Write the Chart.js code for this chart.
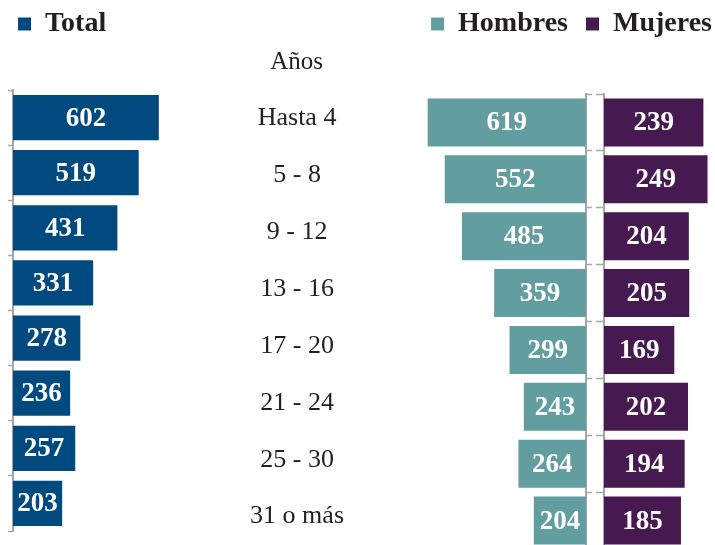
<!DOCTYPE html>
<html>
<head>
<meta charset="utf-8">
<script src="https://cdn.jsdelivr.net/npm/chart.js@4"></script>
<style>
  html, body { margin: 0; padding: 0; background: #fff; overflow: hidden; }
  #lienzo { position: relative; width: 715px; height: 545px; overflow: hidden; }
  #graficoTotal { position: absolute; left: 0; top: 0; }
  #graficoSexo { position: absolute; left: 240px; top: -8px; }
</style>
</head>
<body>
<div id="lienzo">
  <canvas id="graficoTotal" width="323" height="545"></canvas>
  <canvas id="graficoSexo" width="490" height="577"></canvas>
</div>
<script>
// Datos
var categorias = ['Hasta 4', '5 - 8', '9 - 12', '13 - 16', '17 - 20', '21 - 24', '25 - 30', '31 o más'];
var total = [602, 519, 431, 331, 278, 236, 257, 203];
var hombres = [619, 552, 485, 359, 299, 243, 264, 204];
var mujeres = [239, 249, 204, 205, 169, 202, 194, 185];

var serif = "'Liberation Serif', 'DejaVu Serif', serif";
var gris = '#a6a6a6';
var texto = '#231f20';

Chart.defaults.font.family = serif;
Chart.defaults.color = texto;

// numeros blancos dentro de cada barra
var valoresEnBarras = {
    id: 'valoresEnBarras',
    afterDatasetsDraw: function (chart) {
        var ctx = chart.ctx;
        ctx.save();
        ctx.font = 'bold 27px ' + serif;
        ctx.fillStyle = '#ffffff';
        ctx.textAlign = 'center';
        ctx.textBaseline = 'middle';
        chart.data.datasets.forEach(function (ds, i) {
            chart.getDatasetMeta(i).data.forEach(function (barra, j) {
                ctx.fillText(ds.data[j], (barra.x + barra.base) / 2, barra.y + 1);
            });
        });
        ctx.restore();
    }
};

// espacio fijo para la leyenda
function altoLeyenda(alto) {
    return {
        id: 'altoLeyenda',
        afterInit: function (chart) {
            var fit = chart.legend.fit;
            chart.legend.fit = function () { fit.call(this); this.height = alto; };
        }
    };
}

var leyenda = {
    font: { size: 28, weight: 'bold' },
    boxWidth: 13,
    boxHeight: 13,
    color: texto
};

// Total
new Chart(document.getElementById('graficoTotal'), {
    type: 'bar',
    data: {
        labels: categorias,
        datasets: [{
            label: 'Total',
            data: total,
            backgroundColor: '#004a7f',
            borderWidth: 0,
            barPercentage: 0.82,
            categoryPercentage: 1
        }]
    },
    options: {
        indexAxis: 'y',
        responsive: false,
        animation: false,
        events: [],
        layout: { padding: { left: 8, top: 0, right: 0, bottom: 14 } },
        plugins: {
            legend: { align: 'start', labels: Object.assign({ padding: 10 }, leyenda) },
            title: {
                display: true, text: 'Años', align: 'end', weight: 500, color: texto,
                font: { size: 25, weight: 'normal', lineHeight: 1 },
                padding: { top: 0, bottom: 15 }
            },
            tooltip: { enabled: false }
        },
        scales: {
            x: { display: false, min: 0, max: 1280 },
            y: {
                grid: { drawOnChartArea: false, drawTicks: true, tickLength: 5, tickColor: gris, tickWidth: 1.5 },
                border: { color: gris, width: 2 },
                ticks: { display: false }
            }
        }
    },
    plugins: [valoresEnBarras, altoLeyenda(50)]
});

// Hombres y Mujeres
new Chart(document.getElementById('graficoSexo'), {
    type: 'bar',
    data: {
        labels: categorias,
        datasets: [{
            label: 'Hombres',
            data: hombres,
            backgroundColor: '#629da0',
            borderWidth: 0,
            xAxisID: 'xh',
            yAxisID: 'y',
            grouped: false,
            barPercentage: 0.845,
            categoryPercentage: 1
        }, {
            label: 'Mujeres',
            data: mujeres,
            backgroundColor: '#461950',
            borderWidth: 0,
            xAxisID: 'xm',
            yAxisID: 'y',
            grouped: false,
            barPercentage: 0.845,
            categoryPercentage: 1
        }]
    },
    options: {
        indexAxis: 'y',
        responsive: false,
        animation: false,
        events: [],
        layout: { padding: { left: 4, top: 0, right: 0, bottom: 20 } },
        plugins: {
            legend: { align: 'end', labels: Object.assign({ padding: 18 }, leyenda) },
            tooltip: { enabled: false }
        },
        scales: {
            xh: { type: 'linear', reverse: true, display: false, min: -563, max: 942 },
            xm: { type: 'linear', display: false, min: -623, max: 303 },
            y: {
                type: 'category', position: { xh: 0 }, offset: true,
                grid: { display: false },
                border: { color: gris, width: 2 },
                ticks: { display: false }
            },
            ym: {
                type: 'category', position: { xm: 0 }, offset: true,
                grid: { offset: true, drawOnChartArea: false, drawTicks: true, tickLength: 18, tickColor: gris, tickWidth: 1.5, tickBorderDash: [7, 4] },
                border: { color: gris, width: 2 },
                ticks: { display: false }
            },
            yl: {
                type: 'category', position: 'left', offset: true,
                grid: { display: false, drawTicks: false },
                border: { display: false },
                ticks: { font: { size: 26 }, color: texto, crossAlign: 'center', labelOffset: -4, padding: 1 },
                afterFit: function (escala) { escala.width = 101; }
            }
        }
    },
    plugins: [valoresEnBarras, altoLeyenda(102)]
});
</script>
</body>
</html>
